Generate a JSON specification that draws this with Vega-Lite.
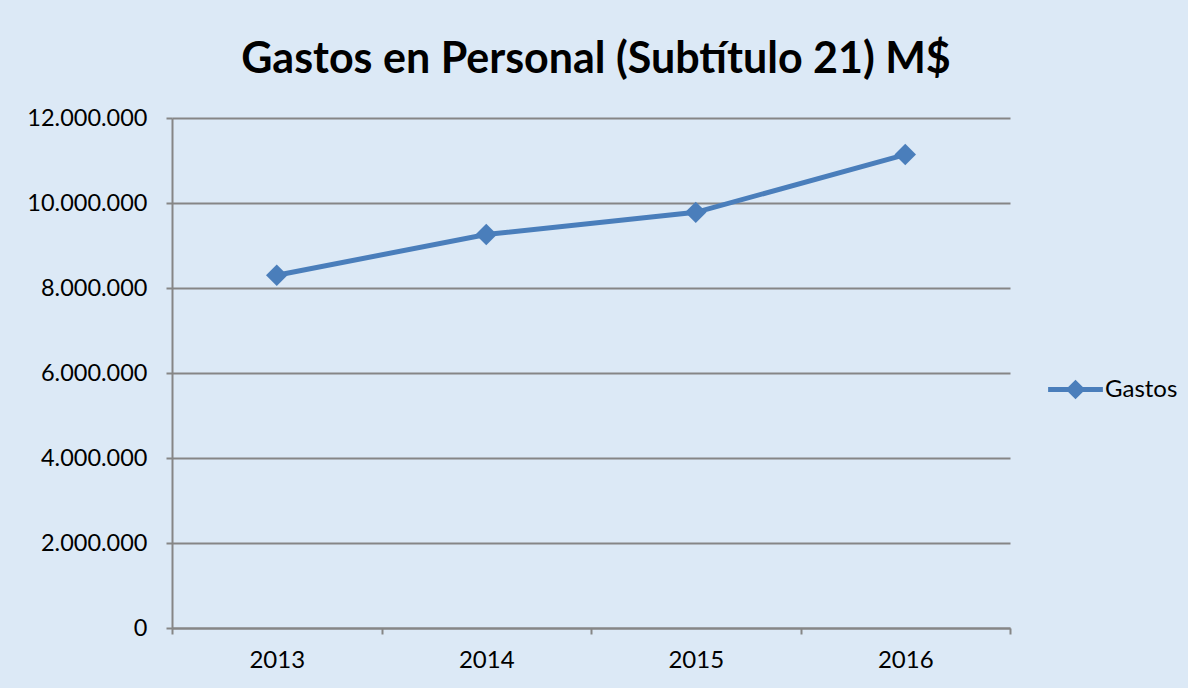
{
  "$schema": "https://vega.github.io/schema/vega-lite/v6.json",
  "autosize": "none",
  "width": 838,
  "height": 510,
  "padding": {"left": 172, "top": 118, "right": 178, "bottom": 60},
  "background": "#DCE9F6",
  "config": {
    "locale": {"number": {"decimal": ",", "thousands": ".", "grouping": [3], "currency": ["$", ""]}},
    "view": {"stroke": null},
    "font": "Lato"
  },
  "title": {
    "text": "Gastos en Personal (Subtítulo 21) M$",
    "font": "Lato",
    "fontSize": 43,
    "fontWeight": "bold",
    "color": "#000000",
    "anchor": "middle",
    "offset": 24,
    "dx": 5
  },
  "data": {
    "values": [
      {"year": "2013", "value": 8300000, "series": "Gastos"},
      {"year": "2014", "value": 9260000, "series": "Gastos"},
      {"year": "2015", "value": 9780000, "series": "Gastos"},
      {"year": "2016", "value": 11140000, "series": "Gastos"}
    ]
  },
  "mark": {
    "type": "line",
    "strokeWidth": 5,
    "point": {"shape": "diamond", "size": 460, "filled": true, "opacity": 1}
  },
  "encoding": {
    "x": {
      "field": "year",
      "type": "ordinal",
      "bandPosition": 0.5,
      "scale": {"type": "band", "paddingInner": 0, "paddingOuter": 0},
      "axis": {
        "title": null,
        "tickBand": "extent",
        "labelAngle": 0,
        "grid": false,
        "domainColor": "#868686",
        "domainWidth": 2,
        "tickColor": "#868686",
        "tickWidth": 2,
        "tickSize": 6,
        "labelFont": "Lato",
        "labelFontSize": 24,
        "labelColor": "#000000",
        "labelPadding": 14
      }
    },
    "y": {
      "field": "value",
      "type": "quantitative",
      "scale": {"domain": [0, 12000000], "nice": false},
      "axis": {
        "title": null,
        "values": [0, 2000000, 4000000, 6000000, 8000000, 10000000, 12000000],
        "format": ",d",
        "grid": true,
        "gridColor": "#868686",
        "gridWidth": 2,
        "domainColor": "#868686",
        "domainWidth": 2,
        "tickColor": "#868686",
        "tickWidth": 2,
        "tickSize": 6,
        "labelFont": "Lato",
        "labelFontSize": 23.5,
        "labelColor": "#000000",
        "labelPadding": 19
      }
    },
    "color": {
      "field": "series",
      "type": "nominal",
      "scale": {"range": ["#4A7EBB"]},
      "legend": {
        "title": null,
        "orient": "none",
        "legendX": 876,
        "legendY": 244,
        "symbolType": "M-1,-0.09H1V0.09H-1Z M0,-0.36L0.36,0L0,0.36L-0.36,0Z",
        "symbolSize": 3000,
        "symbolStrokeWidth": 0,
        "symbolFillColor": "#4A7EBB",
        "labelFont": "Lato",
        "labelFontSize": 24,
        "labelColor": "#000000",
        "labelOffset": 2
      }
    }
  }
}
